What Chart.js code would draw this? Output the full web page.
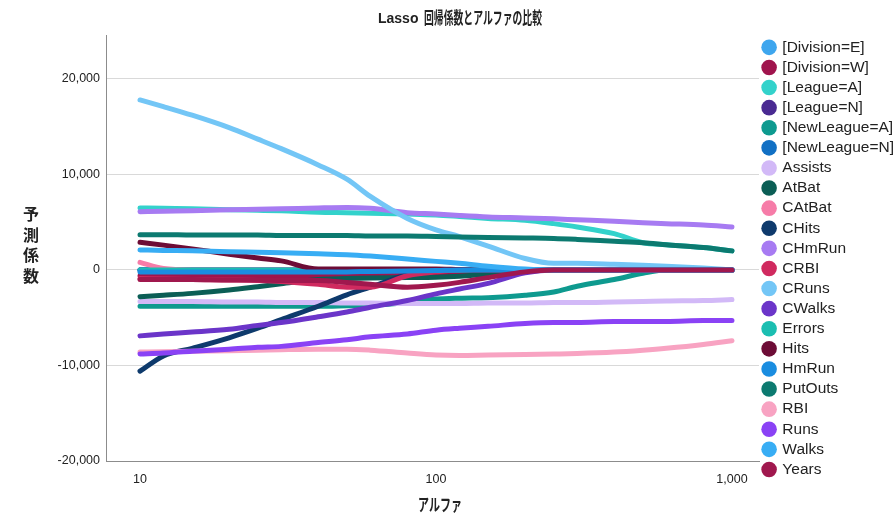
<!DOCTYPE html>
<html>
<head>
<meta charset="utf-8">
<script src="https://cdn.jsdelivr.net/npm/chart.js@4.4.1/dist/chart.umd.min.js"></script>
<style>
  html, body { margin: 0; padding: 0; background: #fff; }
</style>
</head>
<body>
<canvas id="lassoChart" width="893" height="518"></canvas>
<script>
// alpha values along the path (log x axis)
var alphas = [10, 12, 15, 20, 25, 30, 40, 50, 60, 80, 100, 120, 150, 200, 250, 300, 400, 500, 600, 800, 1000];
var xTicks = [10, 100, 1000];
var yTicks = [-20000, -10000, 0, 10000, 20000];

// coefficient for each predictor at each alpha
var divisionE  = [0, 0, 0, 0, 0, 0, 0, 0, 0, 0, 0, 0, 0, 0, 0, 0, 0, 0, 0, 0, 0];
var divisionW  = [-600, -600, -600, -600, -600, -600, -600, -600, -550, -450, -350, -250, -100, 0, 0, 0, 0, 0, 0, 0, 0];
var leagueA    = [6500, 6450, 6400, 6300, 6250, 6200, 6050, 6000, 5950, 5850, 5750, 5600, 5400, 5200, 4850, 4500, 3800, 2850, 2650, 2350, 2000];
var leagueN    = [0, 0, 0, 0, 0, 0, 0, 0, 0, 0, 0, 0, 0, 0, 0, 0, 0, 0, 0, 0, 0];
var newLeagueA = [-3800, -3800, -3800, -3800, -3800, -3800, -3800, -3750, -3700, -3400, -3050, -2950, -2900, -2650, -2300, -1700, -1000, -350, 0, 0, 0];
var newLeagueN = [0, 0, 0, 0, 0, 0, 0, 0, 0, 0, 0, 0, 0, 0, 0, 0, 0, 0, 0, 0, 0];
var assists    = [-3300, -3300, -3300, -3350, -3350, -3400, -3400, -3450, -3450, -3500, -3500, -3500, -3450, -3450, -3400, -3400, -3350, -3300, -3250, -3200, -3100];
var atBat      = [-2800, -2650, -2450, -2100, -1750, -1450, -1000, -900, -850, -800, -750, -650, -450, -100, 0, 0, 0, 0, 0, 0, 0];
var cAtBat     = [800, 150, 0, 0, 0, 0, 0, 0, 0, 0, 0, 0, 0, 0, 0, 0, 0, 0, 0, 0, 0];
var cHits      = [-10600, -9000, -8200, -7100, -6100, -5200, -3800, -2600, -1800, -500, 0, 0, 0, 0, 0, 0, 0, 0, 0, 0, 0];
var cHmRun     = [6100, 6150, 6200, 6300, 6350, 6400, 6500, 6550, 6450, 6000, 5850, 5700, 5550, 5450, 5350, 5250, 5100, 4950, 4850, 4700, 4500];
var cRBI       = [-900, -950, -1000, -1050, -1100, -1200, -1500, -1800, -1800, -600, -200, 0, 0, 0, 0, 0, 0, 0, 0, 0, 0];
var cRuns      = [17800, 17100, 16200, 14900, 13700, 12700, 11000, 9500, 7700, 5400, 4200, 3500, 2500, 1200, 700, 700, 600, 500, 400, 200, 0];
var cWalks     = [-6900, -6700, -6500, -6200, -5800, -5500, -4900, -4400, -3900, -3200, -2500, -2000, -1400, -300, 0, 0, 0, 0, 0, 0, 0];
var errors     = [0, 0, 0, 0, 0, 0, 0, 0, 0, 0, 0, 0, 0, 0, 0, 0, 0, 0, 0, 0, 0];
var hits       = [2900, 2600, 2200, 1650, 1250, 950, 100, 100, 100, 100, 100, 50, 0, 0, 0, 0, 0, 0, 0, 0, 0];
var hmRun      = [-200, -200, -200, -200, -200, -200, -200, -200, -150, -100, -50, 0, 0, 0, 0, 0, 0, 0, 0, 0, 0];
var putOuts    = [3700, 3700, 3650, 3650, 3650, 3600, 3600, 3600, 3550, 3550, 3500, 3450, 3400, 3350, 3300, 3200, 3000, 2850, 2650, 2350, 2000];
var rbi        = [-8600, -8550, -8500, -8450, -8400, -8350, -8300, -8300, -8400, -8700, -8900, -8950, -8900, -8850, -8800, -8750, -8600, -8400, -8200, -7800, -7400];
var runs       = [-8800, -8700, -8500, -8300, -8100, -8000, -7600, -7300, -7000, -6700, -6300, -6100, -5900, -5600, -5500, -5500, -5400, -5400, -5400, -5300, -5300];
var walks      = [2100, 2050, 2000, 1900, 1850, 1800, 1700, 1600, 1450, 1150, 900, 700, 400, 100, 0, 0, 0, 0, 0, 0, 0];
var years      = [-1000, -1000, -1000, -1050, -1050, -1100, -1100, -1300, -1500, -1800, -1600, -1300, -800, -200, 0, 0, 0, 0, 0, 0, 0];

var seriesNames = ['[Division=E]', '[Division=W]', '[League=A]', '[League=N]', '[NewLeague=A]', '[NewLeague=N]',
  'Assists', 'AtBat', 'CAtBat', 'CHits', 'CHmRun', 'CRBI', 'CRuns', 'CWalks', 'Errors', 'Hits', 'HmRun',
  'PutOuts', 'RBI', 'Runs', 'Walks', 'Years'];
var seriesValues = [divisionE, divisionW, leagueA, leagueN, newLeagueA, newLeagueN,
  assists, atBat, cAtBat, cHits, cHmRun, cRBI, cRuns, cWalks, errors, hits, hmRun,
  putOuts, rbi, runs, walks, years];
var lineColors = ['#3ea6ee', '#a0144d', '#33d2cb', '#4a2a92', '#0e9a8f', '#1170c4',
  '#d2b9f7', '#0b5e55', '#f67ca8', '#0e3a6c', '#a77bf2', '#d02a5f', '#73c6f6', '#6b35c9', '#1bbeb1', '#6d0c36', '#1a8de0',
  '#0c7a70', '#f8a3c2', '#8a42f5', '#38adf4', '#a0184e'];

var datasets = seriesNames.map(function(name, i) {
  return {
    label: name,
    data: seriesValues[i].map(function(v, j) { return { x: alphas[j], y: v }; }),
    borderColor: lineColors[i],
    backgroundColor: lineColors[i],
    borderWidth: 5,
    borderCapStyle: 'round',
    borderJoinStyle: 'round',
    cubicInterpolationMode: 'monotone',
    pointRadius: 0,
    pointHoverRadius: 0,
    pointStyle: 'circle',
    order: -i   // later series drawn on top
  };
});

var fmt = new Intl.NumberFormat('en-US');
var tickFont = { family: '"Liberation Sans", Arial, sans-serif', size: 12.5 };

// draw text left-aligned at x, squeezed horizontally to fit width
function drawSqueezed(ctx, text, x, y, font, width) {
  ctx.font = font;
  var w = ctx.measureText(text).width;
  var sx = Math.min(1, width / w);
  ctx.save();
  ctx.translate(x, y);
  ctx.scale(sx, 1);
  ctx.fillText(text, 0, 0);
  ctx.restore();
}

// title, x title and the stacked y title
var chartTexts = {
  id: 'chartTexts',
  afterDraw: function(chart) {
    var ctx = chart.ctx;
    ctx.save();
    ctx.fillStyle = '#222';
    ctx.textAlign = 'left';
    ctx.textBaseline = 'middle';
    ctx.font = 'bold 14px "Liberation Sans", Arial, sans-serif';
    ctx.fillText('Lasso', 378, 19);
    drawSqueezed(ctx, '回帰係数とアルファの比較', 424, 18, 'bold 17px "Noto Sans CJK JP"', 118);
    drawSqueezed(ctx, 'アルファ', 418, 505, 'bold 17px "Noto Sans CJK JP"', 44);
    ctx.textAlign = 'center';
    ctx.font = 'bold 16px "Noto Sans CJK JP"';
    '予測係数'.split('').forEach(function(ch, i) {
      ctx.fillText(ch, 31, 214 + i * 20.5);
    });
    ctx.restore();
  }
};

var chart = new Chart(document.getElementById('lassoChart'), {
  type: 'line',
  data: { datasets: datasets },
  plugins: [chartTexts],
  options: {
    responsive: false,
    animation: false,
    layout: { padding: { top: 35, left: 0, right: 0, bottom: 0 } },
    plugins: {
      tooltip: { enabled: false },
      legend: {
        position: 'right',
        align: 'start',
        maxWidth: 134,
        labels: {
          usePointStyle: true,
          pointStyle: 'circle',
          boxWidth: 11,
          boxHeight: 11,
          padding: 4.6,
          color: '#222',
          font: { family: '"Liberation Sans", Arial, sans-serif', size: 15.5 },
          sort: function(a, b) { return a.datasetIndex - b.datasetIndex; },
          generateLabels: function(c) {
            var items = Chart.defaults.plugins.legend.labels.generateLabels(c);
            items.forEach(function(it) { it.lineWidth = 0; it.fillStyle = it.strokeStyle; });
            return items;
          }
        }
      }
    },
    scales: {
      x: {
        type: 'logarithmic',
        min: 7.675,
        max: 1234,
        afterBuildTicks: function(scale) {
          scale.ticks = xTicks.map(function(v) { return { value: v }; });
        },
        afterFit: function(scale) { scale.height = 57; },
        grid: { display: false },
        border: { display: true, color: '#8c8c8c', width: 1 },
        ticks: {
          padding: 3,
          color: '#222',
          font: tickFont,
          maxRotation: 0,
          callback: function(v) { return fmt.format(v); }
        }
      },
      y: {
        type: 'linear',
        min: -20000,
        max: 24600,
        afterBuildTicks: function(scale) {
          scale.ticks = yTicks.map(function(v) { return { value: v }; });
        },
        afterFit: function(scale) { scale.width = 106; },
        grid: { color: '#d9d9d9', lineWidth: 1, drawTicks: false },
        border: { display: true, color: '#8c8c8c', width: 1 },
        ticks: {
          padding: 6,
          color: '#222',
          font: tickFont,
          callback: function(v) { return fmt.format(v); }
        }
      }
    }
  }
});
</script>
</body>
</html>
